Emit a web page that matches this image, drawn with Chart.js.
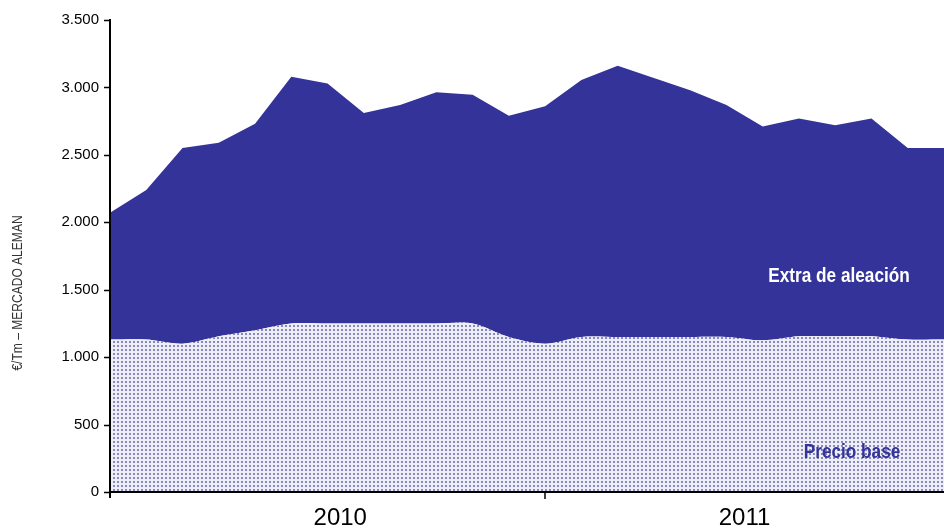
<!DOCTYPE html>
<html>
<head>
<meta charset="utf-8">
<script src="https://cdn.jsdelivr.net/npm/chart.js@4"></script>
<style>
  html, body { margin: 0; padding: 0; background: #fff; }
  #wrap { width: 944px; height: 528px; }
</style>
</head>
<body>
<div id="wrap"><canvas id="chart" width="944" height="528"></canvas></div>
<script>
// monthly data Jan 2010 - Dec 2011 (€/Tm)
const months = ['E10','F10','M10','A10','M10','J10','J10','A10','S10','O10','N10','D10',
                'E11','F11','M11','A11','M11','J11','J11','A11','S11','O11','N11','D11'];
const precioBase = [1130, 1130, 1100, 1155, 1200, 1250, 1250, 1250, 1250, 1250, 1250, 1150,
                    1100, 1150, 1150, 1150, 1150, 1150, 1125, 1155, 1155, 1155, 1130, 1130];
const precioTotal = [2070, 2240, 2550, 2590, 2730, 3080, 3030, 2810, 2870, 2965, 2945, 2790,
                     2860, 3055, 3160, 3070, 2980, 2870, 2710, 2770, 2720, 2770, 2550, 2550];
const extraAleacion = precioTotal.map((t, i) => t - precioBase[i]);
const yearLabels = ['2010', '2011'];
const yTicks = [0, 500, 1000, 1500, 2000, 2500, 3000, 3500];

const BLUE = '#333399';

// dotted fill for the base price
function dotPattern() {
    const c = document.createElement('canvas');
    c.width = 4; c.height = 4;
    const g = c.getContext('2d');
    g.fillStyle = '#eeeef6';
    g.fillRect(0, 0, 4, 4);
    g.fillStyle = '#8888bc';
    g.fillRect(1, 1, 2, 2);
    return g.createPattern(c, 'repeat');
}

const fmt = v => v.toLocaleString('de-DE');

// condensed text (no narrow font installed)
function narrowText(ctx, text, x, y, sx) {
    ctx.save();
    ctx.translate(x, y);
    ctx.scale(sx, 1);
    ctx.fillText(text, 0, 0);
    ctx.restore();
}

const extras = {
    id: 'extras',
    afterDraw(chart) {
        const ctx = chart.ctx;
        const x = chart.scales.x, y = chart.scales.y;
        const area = chart.chartArea;
        ctx.save();
        // axes
        ctx.strokeStyle = '#000';
        ctx.lineWidth = 2;
        ctx.beginPath();
        ctx.moveTo(area.left, area.top - 1);
        ctx.lineTo(area.left, area.bottom + 6);
        ctx.moveTo(area.left - 1, area.bottom);
        ctx.lineTo(area.right, area.bottom);
        ctx.stroke();
        // y tick marks
        ctx.lineWidth = 1.5;
        ctx.beginPath();
        yTicks.forEach(v => {
            const py = Math.round(y.getPixelForValue(v)) + 0.5;
            ctx.moveTo(area.left - 6, py);
            ctx.lineTo(area.left, py);
        });
        // x tick at year boundary
        const px = Math.round(x.getPixelForValue(12));
        ctx.moveTo(px, area.bottom);
        ctx.lineTo(px, area.bottom + 7);
        ctx.stroke();
        // year labels
        ctx.fillStyle = '#000';
        ctx.font = '24px "Liberation Sans", Arial, sans-serif';
        ctx.textAlign = 'center';
        ctx.textBaseline = 'middle';
        ctx.fillText(yearLabels[0], x.getPixelForValue(6.35), area.bottom + 26);
        ctx.fillText(yearLabels[1], x.getPixelForValue(17.5), area.bottom + 26);
        // y axis title
        ctx.save();
        ctx.translate(18, 293);
        ctx.rotate(-Math.PI / 2);
        ctx.font = '14px "Liberation Sans", Arial, sans-serif';
        ctx.fillStyle = '#333';
        narrowText(ctx, '€/Tm – MERCADO ALEMAN', 0, 0, 0.86);
        ctx.restore();
        // series labels
        ctx.font = 'bold 20px "Liberation Sans", Arial, sans-serif';
        ctx.fillStyle = '#fff';
        narrowText(ctx, 'Extra de aleación', 839, 276, 0.86);
        ctx.fillStyle = BLUE;
        narrowText(ctx, 'Precio base', 852, 452, 0.86);
        ctx.restore();
    }
};

new Chart(document.getElementById('chart'), {
    type: 'line',
    data: {
        labels: months,
        datasets: [{
            label: 'Precio base',
            data: precioBase,
            backgroundColor: dotPattern(),
            borderWidth: 0,
            pointRadius: 0,
            fill: 'origin',
            tension: 0.3
        }, {
            label: 'Extra de aleación',
            data: extraAleacion,
            backgroundColor: BLUE,
            borderColor: BLUE,
            borderWidth: 0,
            pointRadius: 0,
            fill: '-1',
            tension: 0
        }]
    },
    options: {
        responsive: false,
        animation: false,
        layout: { padding: { top: 20, right: 0, left: 0, bottom: 0 } },
        plugins: { legend: { display: false }, tooltip: { enabled: false } },
        scales: {
            x: {
                offset: false,
                grid: { display: false },
                border: { display: false },
                ticks: { display: false },
                afterFit: s => { s.height = 36; }
            },
            y: {
                stacked: true,
                min: 0,
                max: 3500,
                grid: { display: false },
                border: { display: false },
                ticks: {
                    stepSize: 500,
                    padding: 3,
                    color: '#000',
                    font: { size: 15, family: '"Liberation Sans", Arial, sans-serif' },
                    callback: v => fmt(v)
                },
                afterFit: s => { s.width = 110; }
            }
        }
    },
    plugins: [extras]
});
</script>
</body>
</html>
